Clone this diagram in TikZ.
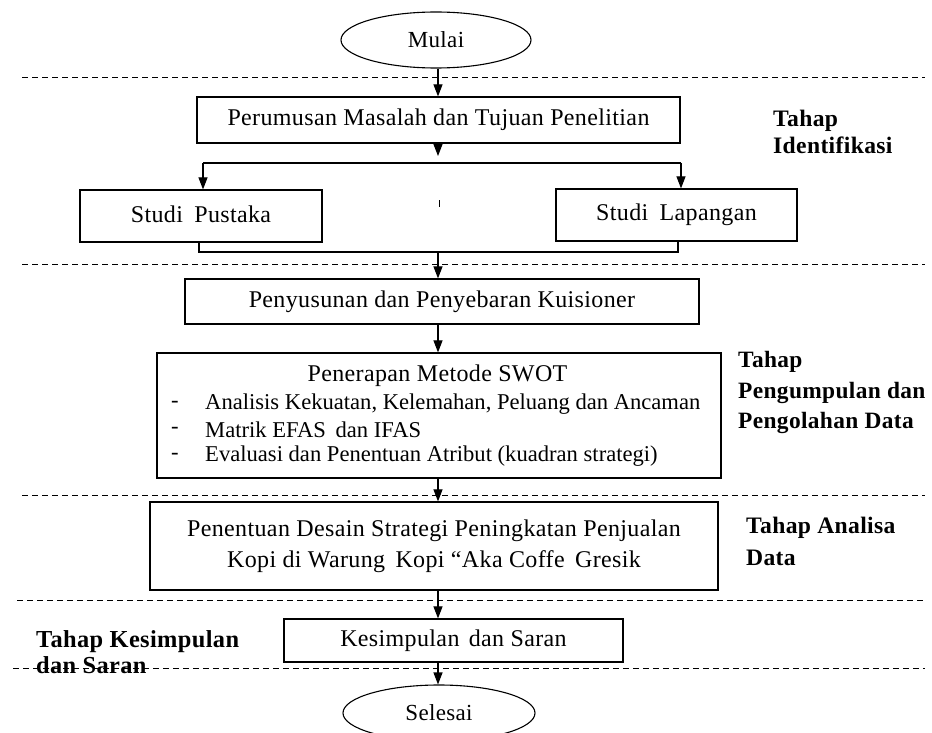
\documentclass[tikz,border=0pt]{standalone}
\usepackage{fontspec}
\setmainfont{Liberation Serif}[LetterSpace=1.5]
\newfontfamily\itemfont{Liberation Serif}
\usetikzlibrary{arrows.meta,shapes.geometric}
\begin{document}
\begin{tikzpicture}[x=1pt,y=-1pt,
  box/.style={draw, rectangle, line width=1.2pt, inner sep=0pt, font=\fontsize{24}{31}\selectfont},
  term/.style={draw, ellipse, line width=1.1pt, inner sep=0pt, font=\fontsize{23}{26}\selectfont},
  arr/.style={-{Triangle[length=12pt,width=9pt]}, line width=1.1pt},
  conn/.style={line width=1.1pt},
  sep/.style={line width=0.9pt, dash pattern=on 6pt off 4pt},
  txt/.style={inner sep=0pt, font=\fontsize{24}{26}\selectfont},
  itm/.style={inner sep=0pt, anchor=west, font=\itemfont\fontsize{22.6}{26}\selectfont},
  lbl/.style={inner sep=0pt, anchor=west, align=left}
]
\useasboundingbox (0,0) rectangle (932,733);
\fill[white] (0,0) rectangle (932,733);

% separators
\draw[sep] (22,77) -- (925,77);
\draw[sep] (22,264) -- (925,264);
\draw[sep] (22,495) -- (925,495);
\draw[sep] (17,600) -- (925,600);
\draw[sep] (13,668) -- (925,668);

% spine
\coordinate (sp) at (438,0);

% nodes
\node[term, minimum width=190pt, minimum height=56pt] (mulai) at (436,40) {Mulai};
\node[box, minimum width=483pt, minimum height=46pt] (perum) at (438.5,120) {Perumusan Masalah dan Tujuan Penelitian};
\node[box, minimum width=242pt, minimum height=52pt] (pustaka) at (201,216) {\raisebox{3pt}{Studi\hspace{5pt} Pustaka}};
\node[box, minimum width=241pt, minimum height=52pt] (lapangan) at (676.5,215) {\raisebox{3pt}{Studi\hspace{5pt} Lapangan}};
\node[box, minimum width=514pt, minimum height=45pt] (susun) at (442,301.5) {Penyusunan dan Penyebaran Kuisioner};
\node[box, minimum width=564pt, minimum height=125pt] (swot) at (439,415.5) {};
\node[box, minimum width=568pt, minimum height=88pt, align=center] (tentu) at (434,546)
  {Penentuan Desain Strategi Peningkatan Penjualan\\ Kopi di Warung\hspace{4pt} Kopi “Aka Coffe\hspace{4pt} Gresik};
\node[box, minimum width=339pt, minimum height=43pt] (simpul) at (453.5,640.5) {\raisebox{-2pt}{Kesimpulan\hspace{3pt} dan Saran}};
\node[term, minimum width=192pt, minimum height=56pt] (selesai) at (439,713) {Selesai};

% SWOT box contents
\node[txt] (swott) at (437.5,376) {Penerapan Metode SWOT};
\node[itm] (d1) at (171,404) {-};
\node[itm] (i1) at (205,404) {Analisis Kekuatan, Kelemahan, Peluang dan Ancaman};
\node[itm] (d2) at (171,430) {-};
\node[itm] (i2) at (205,430) {Matrik EFAS\hspace{4pt} dan IFAS};
\node[itm] (d3) at (171,456) {-};
\node[itm] (i3) at (205,456) {Evaluasi dan Penentuan Atribut (kuadran strategi)};

% stage labels
\node[lbl, font=\bfseries\fontsize{23.6}{27}\selectfont] (l1) at (773,131.5) {Tahap\\Identifikasi};
\node[lbl, font=\bfseries\fontsize{23.4}{30.5}\selectfont] (l2) at (738,392.5) {Tahap\\Pengumpulan dan\\Pengolahan Data};
\node[lbl, font=\bfseries\fontsize{23.6}{32}\selectfont] (l3) at (746,541) {Tahap Analisa\\Data};
\node[lbl, font=\bfseries\fontsize{24.4}{26}\selectfont] (l4) at (36,652) {Tahap Kesimpulan\\dan Saran};

% stray tick
\draw[line width=0.8pt] (439,200) -- (439,207);

% connectors
\coordinate (br) at (438,163);
\coordinate (bl) at (203,163);
\coordinate (brr) at (681,163);
\coordinate (jl) at (199,252);
\coordinate (jr) at (678,252);
\coordinate (jc) at (438,252);

\draw[arr] (mulai.south -| sp) -- (perum.north -| sp);
\draw[conn] (bl) -- (brr);
\draw[arr] (perum.south -| sp) -- ([yshift=7pt]br);
\draw[arr] (bl) -- (bl |- pustaka.north);
\draw[arr] (brr) -- (brr |- lapangan.north);
\draw[conn] (pustaka.south -| jl) -- (jl) -- (jr) -- (lapangan.south -| jr);
\draw[arr] (jc) -- (susun.north -| sp);
\draw[arr] (susun.south -| sp) -- (swot.north -| sp);
\draw[arr] (swot.south -| sp) -- (tentu.north -| sp);
\draw[arr] (tentu.south -| sp) -- (simpul.north -| sp);
\draw[arr] (simpul.south -| sp) -- (selesai.north -| sp);
\end{tikzpicture}
\end{document}
